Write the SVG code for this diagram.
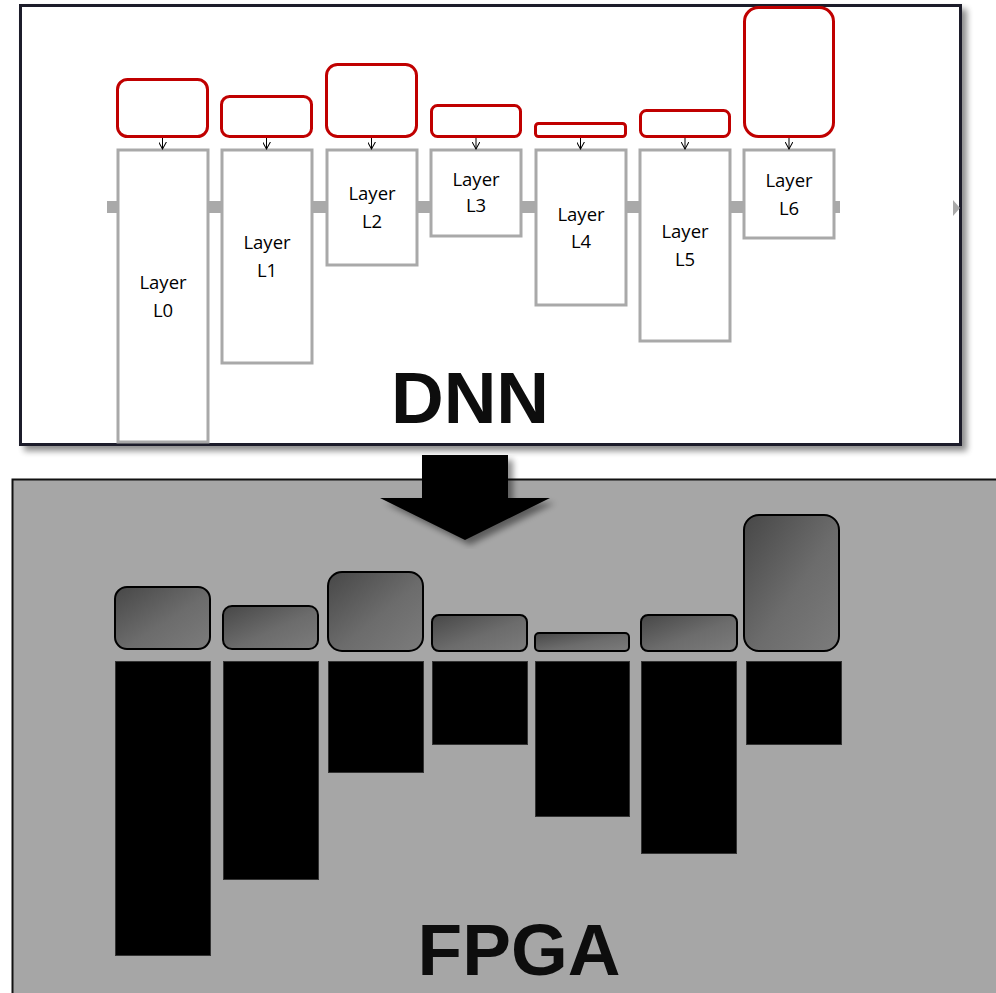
<svg xmlns="http://www.w3.org/2000/svg" width="996" height="993" viewBox="0 0 996 993">
  <defs>
    <filter id="shadow" x="-5%" y="-5%" width="112%" height="115%">
      <feGaussianBlur in="SourceAlpha" stdDeviation="3"/>
      <feOffset dx="5" dy="5" result="b"/>
      <feComponentTransfer><feFuncA type="linear" slope="0.45"/></feComponentTransfer>
      <feMerge><feMergeNode/><feMergeNode in="SourceGraphic"/></feMerge>
    </filter>
    <linearGradient id="g" x1="0" y1="0" x2="1" y2="1">
      <stop offset="0" stop-color="#474747"/>
      <stop offset="0.55" stop-color="#6c6c6c"/>
      <stop offset="1" stop-color="#7c7c7c"/>
    </linearGradient>
    <marker id="ah" viewBox="0 0 10 10" refX="9" refY="5" markerWidth="8" markerHeight="8" markerUnits="userSpaceOnUse" orient="auto">
      <path d="M0,0 L9,5 L0,10" fill="none" stroke="#000" stroke-width="1.3"/>
    </marker>
  </defs>
  <style>
    .layer { fill: #fff; stroke: #a9a9a9; stroke-width: 3; }
    .req { fill: #fff; stroke: #c00000; stroke-width: 3; }
    .lbl { font-family: "Open Sans", "Liberation Sans", sans-serif; font-size: 18.5px; fill: #000; text-anchor: middle; }
    .big { font-family: "Liberation Sans", Arial, sans-serif; font-weight: bold; font-size: 73px; fill: #0d0d0d; text-anchor: middle; }
    .res { fill: url(#g); stroke: #000; stroke-width: 2; }
    .blk { fill: #000; stroke: #333; stroke-width: 1; }
    .conn { stroke: #000; stroke-width: 1; fill: none; marker-end: url(#ah); }
  </style>

  <rect width="996" height="993" fill="#fff"/>

  <!-- FPGA panel -->
  <g id="fpga-panel">
    <rect x="12.5" y="479.5" width="990" height="520" fill="#a6a6a6" stroke="#111" stroke-width="2"/>
  </g>

  <!-- DNN panel -->
  <g id="dnn-panel">
    <rect x="20.5" y="5.5" width="940" height="439" fill="#fff" stroke="#1a1d2b" stroke-width="3" filter="url(#shadow)"/>
  </g>

  <!-- data flow line -->
  <g id="flow">
    <rect x="107" y="201" width="733" height="12" fill="#a9a9a9"/>
    <polygon points="953,200 960,208 953,216" fill="#a9a9a9"/>
  </g>

  <!-- layer nodes -->
  <g id="L0"><rect class="req" x="117.5" y="79.5" width="90" height="57" rx="10"/><rect class="layer" x="118" y="150" width="90" height="292"/><text class="lbl" x="163" y="289">Layer</text><text class="lbl" x="163" y="317">L0</text></g>
  <g id="L1"><rect class="req" x="221.5" y="96.5" width="90" height="40" rx="8"/><rect class="layer" x="222" y="150" width="90" height="213"/><text class="lbl" x="267" y="249">Layer</text><text class="lbl" x="267" y="277">L1</text></g>
  <g id="L2"><rect class="req" x="326.5" y="64.5" width="90" height="72" rx="11"/><rect class="layer" x="327" y="150" width="90" height="115"/><text class="lbl" x="372" y="200">Layer</text><text class="lbl" x="372" y="228">L2</text></g>
  <g id="L3"><rect class="req" x="431.5" y="105.5" width="89" height="31" rx="6"/><rect class="layer" x="431" y="150" width="90" height="86"/><text class="lbl" x="476" y="186">Layer</text><text class="lbl" x="476" y="212">L3</text></g>
  <g id="L4"><rect class="req" x="535.5" y="123.5" width="90" height="13" rx="3"/><rect class="layer" x="536" y="150" width="90" height="155"/><text class="lbl" x="581" y="221">Layer</text><text class="lbl" x="581" y="248">L4</text></g>
  <g id="L5"><rect class="req" x="640.5" y="110.5" width="89" height="26" rx="6"/><rect class="layer" x="640" y="150" width="90" height="191"/><text class="lbl" x="685" y="238">Layer</text><text class="lbl" x="685" y="266">L5</text></g>
  <g id="L6"><rect class="req" x="744.5" y="7.5" width="89" height="129" rx="14"/><rect class="layer" x="744" y="150" width="90" height="88"/><text class="lbl" x="789" y="187">Layer</text><text class="lbl" x="789" y="215">L6</text></g>

  <!-- connectors -->
  <g id="connectors">
    <line class="conn" x1="162.5" y1="138" x2="162.5" y2="149"/>
    <line class="conn" x1="266.5" y1="138" x2="266.5" y2="149"/>
    <line class="conn" x1="371.5" y1="138" x2="371.5" y2="149"/>
    <line class="conn" x1="476" y1="138" x2="476" y2="149"/>
    <line class="conn" x1="580.5" y1="138" x2="580.5" y2="149"/>
    <line class="conn" x1="685" y1="138" x2="685" y2="149"/>
    <line class="conn" x1="789" y1="138" x2="789" y2="149"/>
  </g>

  <text class="big" x="470" y="423">DNN</text>

  <!-- big arrow -->
  <g id="map-arrow">
    <polygon points="422,455 508,455 508,498 550,498 465,540 380,498 422,498" fill="#000" filter="url(#shadow)"/>
  </g>

  <!-- FPGA resources -->
  <g id="F0"><rect class="res" x="115" y="587" width="95" height="62" rx="12"/><rect class="blk" x="115.5" y="661.5" width="95" height="294"/></g>
  <g id="F1"><rect class="res" x="223" y="606" width="95" height="43" rx="9"/><rect class="blk" x="223.5" y="661.5" width="95" height="218"/></g>
  <g id="F2"><rect class="res" x="328" y="572" width="95" height="79" rx="14"/><rect class="blk" x="328.5" y="661.5" width="95" height="111"/></g>
  <g id="F3"><rect class="res" x="432" y="615" width="95" height="36" rx="7"/><rect class="blk" x="432.5" y="661.5" width="95" height="83"/></g>
  <g id="F4"><rect class="res" x="535" y="633" width="94" height="18" rx="4"/><rect class="blk" x="535.5" y="661.5" width="94" height="155"/></g>
  <g id="F5"><rect class="res" x="641" y="615" width="96" height="36" rx="7"/><rect class="blk" x="641.5" y="661.5" width="95" height="192"/></g>
  <g id="F6"><rect class="res" x="744" y="515" width="95" height="136" rx="15"/><rect class="blk" x="746.5" y="661.5" width="95" height="83"/></g>

  <text class="big" x="519" y="975">FPGA</text>
</svg>
